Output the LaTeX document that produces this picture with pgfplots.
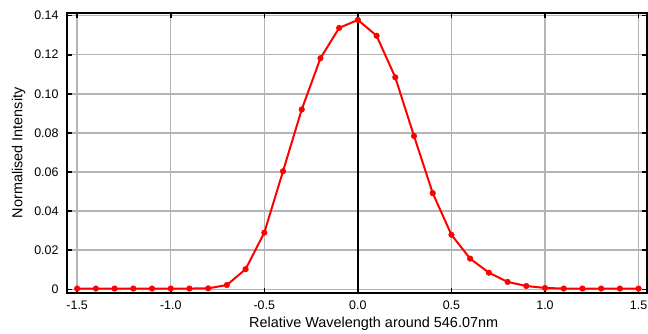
\documentclass[border=0pt]{standalone}
\usepackage{pgfplots}
\pgfplotsset{compat=1.18}
\usepackage{fontspec}
\setmainfont{Liberation Sans}
\definecolor{gridgray}{RGB}{180,180,180}
\begin{document}
\begin{tikzpicture}
\begin{axis}[
  scale only axis,
  width=583pt, height=281pt,
  xmin=-1.556, xmax=1.545,
  ymin=-0.0017, ymax=0.14137,
  xtick={-1.5,-1.0,...,1.5},
  ytick={0,0.02,...,0.14},
  xticklabels={-1.5,-1.0,-0.5,0.0,0.5,1.0,1.5},
  yticklabels={0,0.02,0.04,0.06,0.08,0.10,0.12,0.14},
  tick align=inside,
  major tick length=5pt,
  tick style={black, line width=1.6pt},
  grid=major,
  major grid style={gridgray, line width=1.5pt},
  axis line style={black, line width=2pt},
  ticklabel style={font=\fontsize{12.5}{14}\selectfont},
  yticklabel style={anchor=east, inner sep=0pt, xshift=-8pt},
  xticklabel style={anchor=north, inner sep=0pt, yshift=-8pt},
  xlabel={Relative Wavelength around 546.07nm},
  ylabel={Normalised Intensity},
  label style={font=\fontsize{14.5}{16}\selectfont},
  xlabel style={at={(axis description cs:0.529,-0.110)}, anchor=center},
  ylabel style={at={(axis description cs:-0.083,0.5)}, anchor=center},
  clip=false,
]
\addplot[black, line width=2pt, forget plot] coordinates {(0,-0.0017) (0,0.14137)};
\addplot[red, line width=2pt, mark=*, mark size=2.8pt, mark options={fill=red, draw=red, line width=0.5pt}] coordinates {
(-1.5,0.0004) (-1.4,0.0004) (-1.3,0.0004) (-1.2,0.0004) (-1.1,0.0004)
(-1.0,0.0004) (-0.9,0.0004) (-0.8,0.0005) (-0.7,0.0022) (-0.6,0.0103)
(-0.5,0.0290) (-0.4,0.0604) (-0.3,0.0920) (-0.2,0.1182) (-0.1,0.1337)
(0.0,0.1378) (0.1,0.1297) (0.2,0.1084) (0.3,0.0784) (0.4,0.0492)
(0.5,0.0279) (0.6,0.0157) (0.7,0.0085) (0.8,0.0038) (0.9,0.0017)
(1.0,0.0007) (1.1,0.0004) (1.2,0.0004) (1.3,0.0004) (1.4,0.0004) (1.5,0.0004)
};
\path (rel axis cs:0,0) ++(-67pt,-41pt) coordinate (bl);
\path (axis cs:1.5266,0.14137) ++(0pt,13pt) coordinate (tr);
\pgfresetboundingbox
\useasboundingbox (bl) rectangle (tr);
\end{axis}
\end{tikzpicture}
\end{document}
